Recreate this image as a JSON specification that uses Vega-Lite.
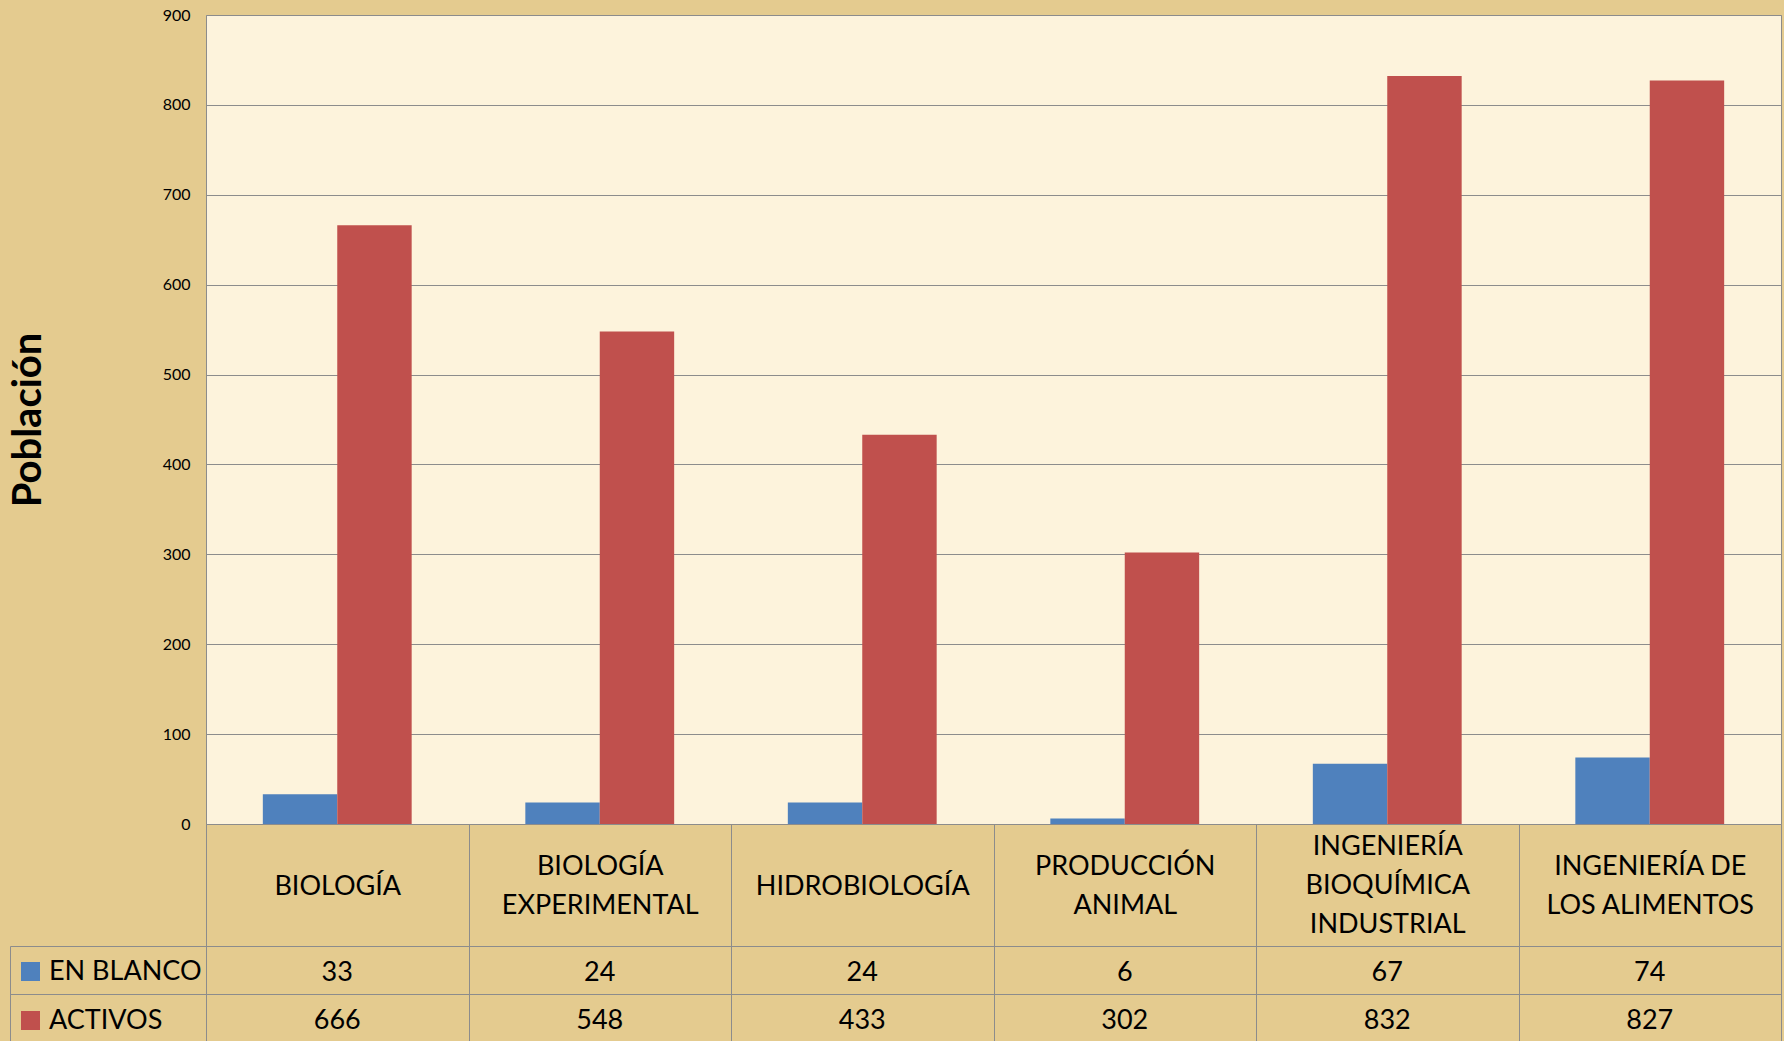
{
  "$schema": "https://vega.github.io/schema/vega-lite/v6.json",
  "background": "#E4CB8F",
  "padding": {"left": 7, "top": 6, "right": 2, "bottom": 0},
  "bounds": "flush",
  "spacing": 122,
  "config": {
    "font": "Lato",
    "axis": {"labelFont": "Lato", "titleFont": "Lato"},
    "legend": {"labelFont": "Lato"}
  },
  "datasets": {
    "poblacion": [
      {"carrera": "BIOLOGÍA", "estado": "EN BLANCO", "valor": 33},
      {"carrera": "BIOLOGÍA", "estado": "ACTIVOS", "valor": 666},
      {"carrera": "BIOLOGÍA EXPERIMENTAL", "estado": "EN BLANCO", "valor": 24},
      {"carrera": "BIOLOGÍA EXPERIMENTAL", "estado": "ACTIVOS", "valor": 548},
      {"carrera": "HIDROBIOLOGÍA", "estado": "EN BLANCO", "valor": 24},
      {"carrera": "HIDROBIOLOGÍA", "estado": "ACTIVOS", "valor": 433},
      {"carrera": "PRODUCCIÓN ANIMAL", "estado": "EN BLANCO", "valor": 6},
      {"carrera": "PRODUCCIÓN ANIMAL", "estado": "ACTIVOS", "valor": 302},
      {"carrera": "INGENIERÍA BIOQUÍMICA INDUSTRIAL", "estado": "EN BLANCO", "valor": 67},
      {"carrera": "INGENIERÍA BIOQUÍMICA INDUSTRIAL", "estado": "ACTIVOS", "valor": 832},
      {"carrera": "INGENIERÍA DE LOS ALIMENTOS", "estado": "EN BLANCO", "valor": 74},
      {"carrera": "INGENIERÍA DE LOS ALIMENTOS", "estado": "ACTIVOS", "valor": 827}
    ]
  },
  "vconcat": [
    {
      "width": 1575,
      "height": 809,
      "view": {"fill": "#FDF3DC", "stroke": "#8C8C8C", "strokeWidth": 1},
      "data": {"name": "poblacion"},
      "mark": {"type": "bar"},
      "encoding": {
        "x": {
          "field": "carrera",
          "type": "nominal",
          "sort": ["BIOLOGÍA", "BIOLOGÍA EXPERIMENTAL", "HIDROBIOLOGÍA", "PRODUCCIÓN ANIMAL", "INGENIERÍA BIOQUÍMICA INDUSTRIAL", "INGENIERÍA DE LOS ALIMENTOS"],
          "scale": {"paddingInner": 0, "paddingOuter": 0},
          "axis": {
            "title": null,
            "labelAngle": 0,
            "domain": true,
            "domainColor": "#8C8C8C",
            "ticks": true,
            "tickBand": "extent",
            "tickSize": 122,
            "tickColor": "#8C8C8C",
            "grid": false,
            "labelFontSize": 27,
            "labelColor": "#000000",
            "labelBaseline": "middle",
            "labelPadding": {
              "condition": [
                {"test": "datum.value == 'INGENIERÍA BIOQUÍMICA INDUSTRIAL'", "value": -100},
                {"test": "datum.value == 'BIOLOGÍA EXPERIMENTAL' || datum.value == 'PRODUCCIÓN ANIMAL' || datum.value == 'INGENIERÍA DE LOS ALIMENTOS'", "value": -80}
              ],
              "value": -60
            },
            "labelLineHeight": 39,
            "labelLimit": 0,
            "labelExpr": "datum.value == null ? '' : datum.value == 'INGENIERÍA DE LOS ALIMENTOS' ? ['INGENIERÍA DE', 'LOS ALIMENTOS'] : split(datum.value, ' ')"
          }
        },
        "xOffset": {
          "field": "estado",
          "type": "nominal",
          "sort": ["EN BLANCO", "ACTIVOS"],
          "scale": {"paddingInner": 0, "paddingOuter": 0.7636}
        },
        "y": {
          "field": "valor",
          "type": "quantitative",
          "scale": {"domain": [0, 900], "nice": false},
          "axis": {
            "values": [0, 100, 200, 300, 400, 500, 600, 700, 800, 900],
            "title": "Población",
            "titleFontSize": 40,
            "titleFontWeight": "bold",
            "titleColor": "#000000",
            "titlePadding": 118,
            "labelFontSize": 16,
            "labelColor": "#000000",
            "labelPadding": 16,
            "ticks": false,
            "domain": false,
            "grid": true,
            "gridColor": "#8C8C8C",
            "gridWidth": 1,
            "minExtent": 40,
            "maxExtent": 40
          }
        },
        "color": {
          "field": "estado",
          "type": "nominal",
          "scale": {"domain": ["EN BLANCO", "ACTIVOS"], "range": ["#4F81BD", "#C0504D"]},
          "legend": {
            "orient": "none",
            "legendX": -189,
            "legendY": 943,
            "title": null,
            "symbolType": "square",
            "symbolSize": 361,
            "symbolStrokeWidth": 0,
            "labelFontSize": 27,
            "labelColor": "#000000",
            "labelOffset": 5,
            "rowPadding": 21,
            "padding": 0
          }
        }
      }
    },
    {
      "width": 1575,
      "height": 96,
      "view": {"stroke": "#8C8C8C", "strokeWidth": 1},
      "data": {"name": "poblacion"},
      "mark": {"type": "text", "fontSize": 27, "color": "#000000", "font": "Lato", "dy": 3},
      "encoding": {
        "x": {
          "field": "carrera",
          "type": "nominal",
          "sort": ["BIOLOGÍA", "BIOLOGÍA EXPERIMENTAL", "HIDROBIOLOGÍA", "PRODUCCIÓN ANIMAL", "INGENIERÍA BIOQUÍMICA INDUSTRIAL", "INGENIERÍA DE LOS ALIMENTOS"],
          "scale": {"type": "band", "paddingInner": 0, "paddingOuter": 0},
          "axis": {
            "title": null,
            "labels": false,
            "ticks": false,
            "domain": false,
            "grid": true,
            "tickBand": "extent",
            "gridColor": "#8C8C8C"
          }
        },
        "y": {
          "field": "estado",
          "type": "nominal",
          "sort": ["EN BLANCO", "ACTIVOS"],
          "scale": {"type": "band", "paddingInner": 0, "paddingOuter": 0},
          "axis": {
            "title": null,
            "labels": false,
            "ticks": true,
            "tickBand": "extent",
            "tickSize": -196,
            "offset": 196,
            "tickColor": "#8C8C8C",
            "domain": true,
            "domainColor": "#8C8C8C",
            "grid": true,
            "gridColor": "#8C8C8C"
          }
        },
        "text": {"field": "valor", "type": "quantitative"}
      }
    }
  ]
}
